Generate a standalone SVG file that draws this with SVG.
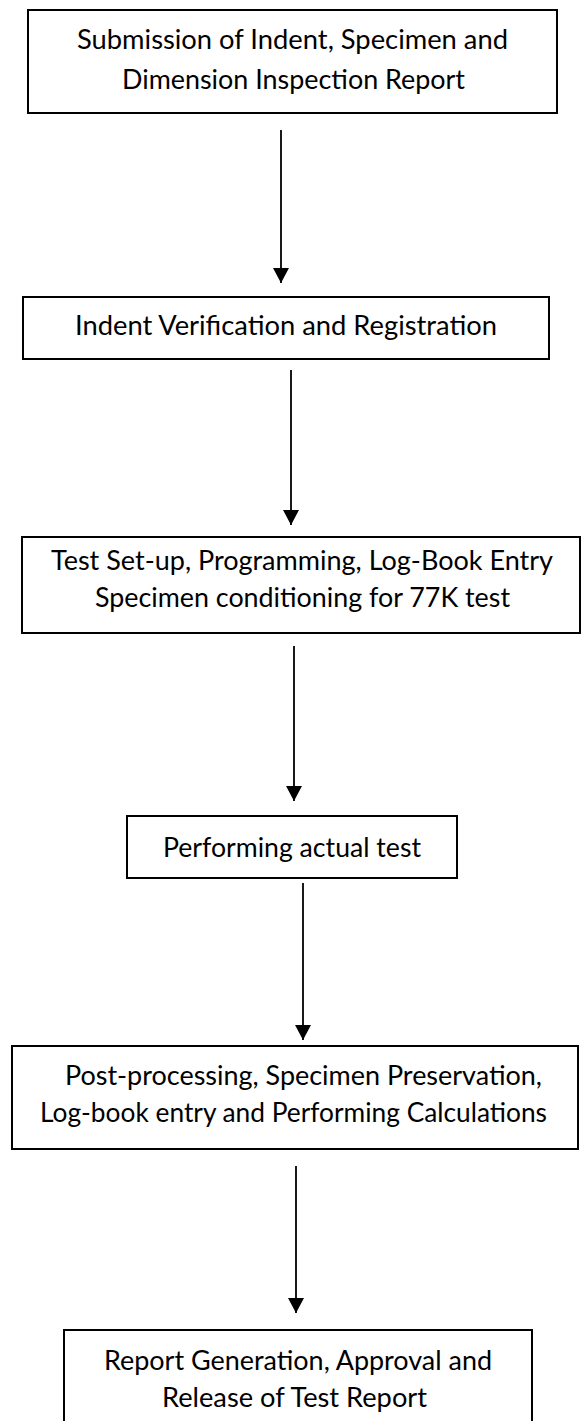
<svg xmlns="http://www.w3.org/2000/svg" width="582" height="1421" viewBox="0 0 582 1421">
  <style>
    .box { fill: #ffffff; stroke: #000000; stroke-width: 2; }
    .lbl { font-family: Lato, "Open Sans", sans-serif; font-size: 26px; fill: #000000; text-anchor: middle; }
    .wire { stroke: #000000; stroke-width: 1.8; fill: none; }
  </style>
  <defs>
    <!-- filled triangular arrowhead, tip at the end of the line -->
    <marker id="head" viewBox="0 0 15 16" refX="15" refY="8" markerWidth="15" markerHeight="16" markerUnits="userSpaceOnUse" orient="auto">
      <path d="M0,0 L15,8 L0,16 Z" fill="#000000"/>
    </marker>
  </defs>
  <rect width="582" height="1421" fill="#ffffff"/>

  <!-- process steps, top to bottom -->
  <g id="step-submission">
    <rect class="box" x="28" y="10" width="529" height="103"/>
    <text class="lbl" x="292.5" y="49" textLength="431" lengthAdjust="spacingAndGlyphs">Submission of Indent, Specimen and</text>
    <text class="lbl" x="293.5" y="89" textLength="343" lengthAdjust="spacingAndGlyphs">Dimension Inspection Report</text>
  </g>

  <g id="step-verification">
    <rect class="box" x="23" y="297" width="526" height="62"/>
    <text class="lbl" x="286" y="335" textLength="422" lengthAdjust="spacingAndGlyphs">Indent Verification and Registration</text>
  </g>

  <g id="step-setup">
    <rect class="box" x="22" y="537" width="558" height="96"/>
    <text class="lbl" x="302" y="570" textLength="502" lengthAdjust="spacingAndGlyphs">Test Set-up, Programming, Log-Book Entry</text>
    <text class="lbl" x="302.5" y="607" textLength="415" lengthAdjust="spacingAndGlyphs">Specimen conditioning for 77K test</text>
  </g>

  <g id="step-test">
    <rect class="box" x="127" y="816" width="330" height="62"/>
    <text class="lbl" x="292" y="857" textLength="258" lengthAdjust="spacingAndGlyphs">Performing actual test</text>
  </g>

  <g id="step-postprocessing">
    <rect class="box" x="12" y="1046" width="566" height="103"/>
    <text class="lbl" x="303.5" y="1085" textLength="477" lengthAdjust="spacingAndGlyphs">Post-processing, Specimen Preservation,</text>
    <text class="lbl" x="293.5" y="1122" textLength="507" lengthAdjust="spacingAndGlyphs">Log-book entry and Performing Calculations</text>
  </g>

  <g id="step-report">
    <rect class="box" x="64" y="1330" width="468" height="110"/>
    <text class="lbl" x="298" y="1370" textLength="388" lengthAdjust="spacingAndGlyphs">Report Generation, Approval and</text>
    <text class="lbl" x="294.5" y="1407" textLength="265" lengthAdjust="spacingAndGlyphs">Release of Test Report</text>
  </g>

  <!-- flow arrows -->
  <g id="connectors">
    <line class="wire" x1="281" y1="130" x2="281" y2="283" marker-end="url(#head)"/>
    <line class="wire" x1="291" y1="370" x2="291" y2="525" marker-end="url(#head)"/>
    <line class="wire" x1="294" y1="646" x2="294" y2="801" marker-end="url(#head)"/>
    <line class="wire" x1="303" y1="883" x2="303" y2="1040" marker-end="url(#head)"/>
    <line class="wire" x1="296" y1="1166" x2="296" y2="1313" marker-end="url(#head)"/>
  </g>
</svg>
